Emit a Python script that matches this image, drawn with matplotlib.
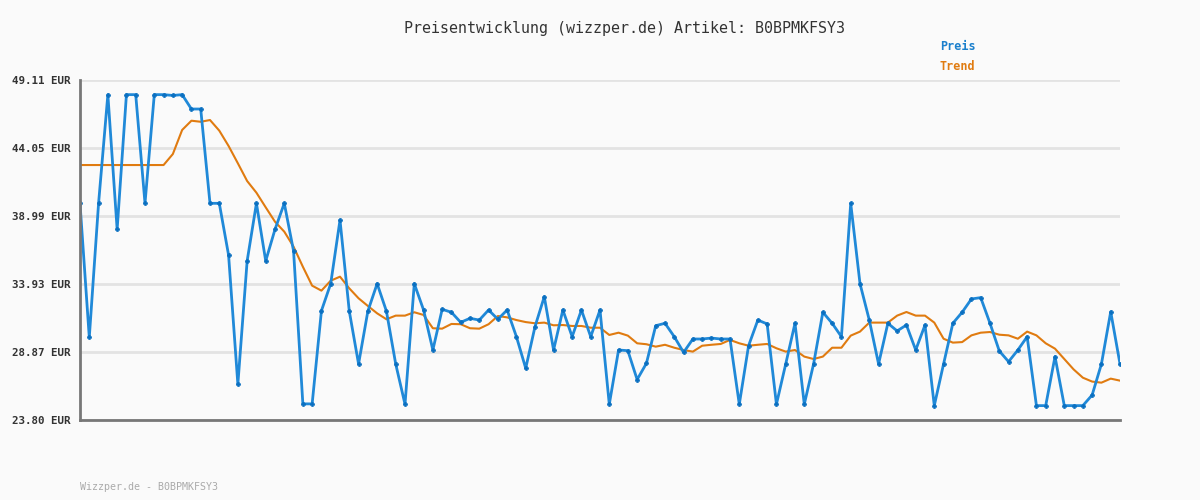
import matplotlib
matplotlib.use("Agg")
import matplotlib.pyplot as plt
import numpy as np

preis = [39.93, 29.95, 39.93, 48.02, 37.99, 48.02, 48.02, 39.93, 48.02, 48.02,
         47.96, 48.02, 46.95, 46.95, 39.93, 39.93, 36.08, 26.46, 35.64, 39.93,
         35.64, 37.99, 39.93, 36.38, 25.00, 25.00, 31.93, 33.95, 38.69, 31.90,
         27.97, 31.90, 33.95, 31.90, 27.97, 24.97, 33.95, 31.99, 29.01, 32.04,
         31.82, 31.07, 31.37, 31.24, 31.99, 31.30, 31.99, 30.00, 27.65, 30.75,
         32.98, 29.01, 31.99, 30.00, 31.99, 30.00, 31.99, 24.97, 29.01, 28.96,
         26.81, 28.02, 30.82, 31.00, 30.00, 28.83, 29.83, 29.83, 29.90, 29.83,
         29.83, 24.97, 29.33, 31.24, 30.95, 24.97, 27.97, 31.00, 24.97, 27.97,
         31.82, 31.00, 30.00, 39.93, 33.95, 31.24, 27.97, 31.00, 30.43, 30.87,
         29.01, 30.87, 24.87, 27.97, 31.00, 31.82, 32.81, 32.91, 31.00, 28.94,
         28.14, 29.01, 30.00, 24.87, 24.87, 28.52, 24.87, 24.87, 24.87, 25.66,
         27.97, 31.86, 27.97]

trend = [42.78, 42.78, 42.78, 42.78, 42.78, 42.78, 42.78, 42.78, 42.78, 42.78,
         43.60, 45.39, 46.08, 46.00, 46.13, 45.34, 44.20, 42.91, 41.59, 40.72,
         39.63, 38.56, 37.82, 36.70, 35.21, 33.80, 33.43, 34.17, 34.47, 33.60,
         32.86, 32.29, 31.74, 31.30, 31.57, 31.57, 31.82, 31.62, 30.63, 30.60,
         30.95, 30.93, 30.63, 30.60, 30.93, 31.54, 31.44, 31.24, 31.09, 31.00,
         31.05, 30.85, 30.87, 30.80, 30.80, 30.67, 30.67, 30.13, 30.30, 30.08,
         29.51, 29.44, 29.26, 29.40, 29.18, 29.01, 28.89, 29.33, 29.40, 29.46,
         29.76, 29.51, 29.33, 29.40, 29.46, 29.14, 28.89, 29.01, 28.52, 28.34,
         28.52, 29.18, 29.18, 30.08, 30.38, 31.05, 31.05, 31.05, 31.57, 31.84,
         31.57, 31.57, 31.05, 29.85, 29.56, 29.60, 30.10, 30.30, 30.35, 30.15,
         30.10, 29.85, 30.38, 30.10, 29.51, 29.11, 28.34, 27.57, 26.95, 26.66,
         26.58, 26.88, 26.73]

yticks = [23.80, 28.87, 33.93, 38.99, 44.05, 49.11]
ytick_labels = ["23.80 EUR", "28.87 EUR", "33.93 EUR", "38.99 EUR", "44.05 EUR", "49.11 EUR"]

title = "Preisentwicklung (wizzper.de) Artikel: B0BPMKFSY3"
footer = "Wizzper.de - B0BPMKFSY3"

mono = "DejaVu Sans Mono"
bg = "#fafafa"
blue = "#2089d8"
orange = "#e07b10"

fig = plt.figure(figsize=(12, 5), dpi=100, facecolor=bg)
ax = fig.add_axes([80/1200, 80/500, 1040/1200, 340/500], facecolor=bg)

x = np.arange(len(preis))
ax.plot(x, trend, color=orange, lw=1.5, zorder=3)
ax.plot(x, preis, color=blue, lw=2.0, zorder=4,
        marker="P", markersize=3.2, markerfacecolor="#0a6fc0", markeredgecolor="#0a6fc0",
        markeredgewidth=0.4)

ax.set_xlim(0, len(preis) - 1)
ax.set_ylim(yticks[0], yticks[-1])
ax.set_yticks(yticks)
ax.set_yticklabels(ytick_labels, fontfamily=mono, fontsize=7.8, fontweight="bold", color="#333333")
ax.set_xticks([])
ax.tick_params(axis="y", length=0, pad=7)
ax.grid(axis="y", color="#e3e3e3", lw=2)
ax.set_axisbelow(True)
for s in ["top", "right"]:
    ax.spines[s].set_visible(False)
for s in ["left", "bottom"]:
    ax.spines[s].set_color("#777777")
    ax.spines[s].set_linewidth(2)
ax.spines["left"].set_zorder(5)

fig.text(624/1200, 1 - 28/500, title, ha="center", va="center", fontfamily=mono,
         fontsize=10.8, color="#333333")
fig.text(940/1200, 1 - 47/500, "Preis", ha="left", va="center", fontfamily=mono,
         fontsize=8.5, fontweight="bold", color="#1a7fcc")
fig.text(940/1200, 1 - 67/500, "Trend", ha="left", va="center", fontfamily=mono,
         fontsize=8.5, fontweight="bold", color="#e07b10")
fig.text(80/1200, 1 - 487/500, footer, ha="left", va="center", fontfamily=mono,
         fontsize=7.2, color="#aaaaaa")

fig.savefig("out.png", dpi=100, facecolor=bg)
